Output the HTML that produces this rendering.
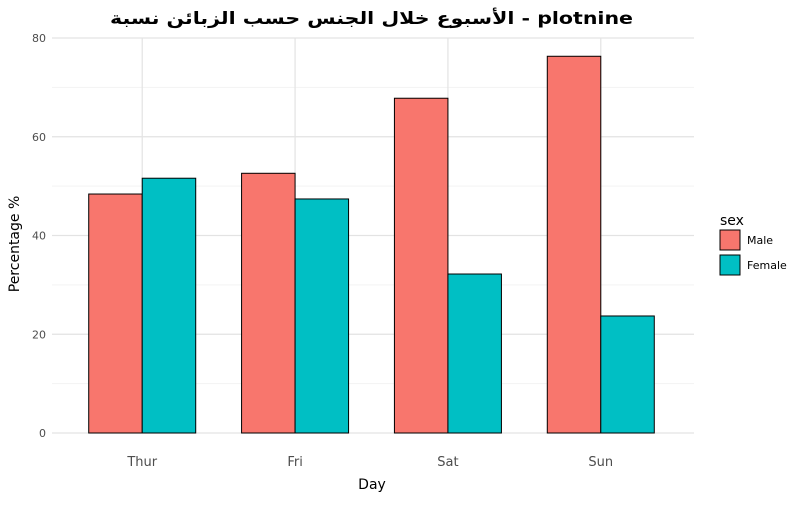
<!DOCTYPE html>
<html><head><meta charset="utf-8"><style>
body{margin:0;background:#fff;width:800px;height:500px;overflow:hidden}
svg text{font-family:"DejaVu Sans","Liberation Sans",sans-serif}
</style></head><body>
<svg id="chart" width="800" height="500" xmlns="http://www.w3.org/2000/svg">
<rect width="800" height="500" fill="#fff"/>
<g id="grid"></g><g id="bars"></g><g id="axes"></g>
<text x="110" y="24" font-size="17" font-weight="bold" fill="#000" textLength="523" lengthAdjust="spacingAndGlyphs">الأسبوع خلال الجنس حسب الزبائن نسبة - plotnine</text>
<text x="372" y="489" text-anchor="middle" font-size="14" fill="#000">Day</text>
<text transform="translate(19,244) rotate(-90)" text-anchor="middle" font-size="14" fill="#000">Percentage %</text>
<g>
<text x="720" y="225" font-size="14" fill="#000">sex</text>
<rect x="720" y="230" width="20" height="20" fill="#F8766D" stroke="#000"/>
<text x="747" y="244" font-size="11" fill="#000">Male</text>
<rect x="720" y="255" width="20" height="20" fill="#00BFC4" stroke="#000"/>
<text x="747" y="269" font-size="11" fill="#000">Female</text>
</g>
</svg>
<script>
const categories=["Thur","Fri","Sat","Sun"];
const maleValues=[48.4,52.6,67.8,76.3];
const femaleValues=[51.6,47.4,32.2,23.7];
const yTicks=[0,20,40,60,80];
const NS="http://www.w3.org/2000/svg";
const plotLeft=52,plotRight=694,plotTop=38,plotBottom=433;
function yScale(v){return plotBottom-(v/80)*(plotBottom-plotTop);}
const unit=(plotRight-plotLeft)/4.2;
function xc(i){return plotLeft+(i+0.6)*unit-1.5;}
const bw=0.35*unit;
function mk(tag,attrs,parent){const e=document.createElementNS(NS,tag);for(const k in attrs)e.setAttribute(k,attrs[k]);parent.appendChild(e);return e;}
const grid=document.getElementById('grid'),bars=document.getElementById('bars'),axes=document.getElementById('axes');
for(let v=10;v<80;v+=20){const l=mk('line',{x1:plotLeft,x2:plotRight,y1:yScale(v),y2:yScale(v),stroke:'#f3f3f3','stroke-width':1},grid);

}
yTicks.forEach(v=>{const l=mk('line',{x1:plotLeft,x2:plotRight,y1:yScale(v),y2:yScale(v),stroke:'#e3e3e3','stroke-width':1.2},grid);


const t=mk('text',{x:46,y:yScale(v)+4,'text-anchor':'end','font-size':11,fill:'#4d4d4d'},axes);t.textContent=v;

});
categories.forEach((c,i)=>{const l=mk('line',{x1:xc(i),x2:xc(i),y1:plotTop,y2:plotBottom,stroke:'#e3e3e3','stroke-width':1.2},grid);


const t=mk('text',{x:xc(i),y:466,'text-anchor':'middle','font-size':13,fill:'#4d4d4d'},axes);t.textContent=c;


const m=mk('rect',{x:xc(i)-bw,y:yScale(maleValues[i]),width:bw,height:yScale(0)-yScale(maleValues[i]),fill:'#F8766D',stroke:'#000','stroke-width':1},bars);


const f=mk('rect',{x:xc(i),y:yScale(femaleValues[i]),width:bw,height:yScale(0)-yScale(femaleValues[i]),fill:'#00BFC4',stroke:'#000','stroke-width':1},bars);

});
</script>
</body></html>
